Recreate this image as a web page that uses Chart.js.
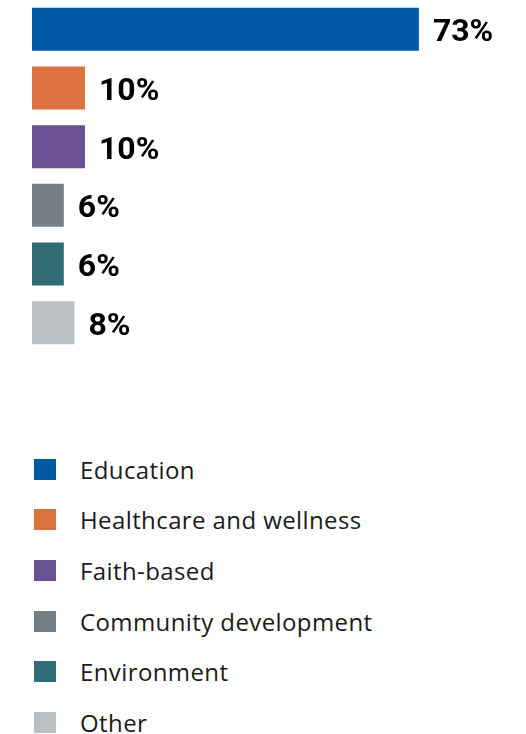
<!DOCTYPE html>
<html>
<head>
<meta charset="utf-8">
<script src="https://cdn.jsdelivr.net/npm/chart.js@4.4.1/dist/chart.umd.min.js"></script>
<style>
	html, body { margin: 0; padding: 0; background: #fff; }
	#wrap { position: relative; width: 526px; height: 352px; }
	#legend { list-style: none; margin: 0; padding: 0; position: absolute; top: 444px; left: 0; }
	#legend li { display: flex; align-items: center; height: 50.6px; font-family: "Open Sans", sans-serif; font-size: 24px; letter-spacing: 0.4px; color: #1b1b1b; }
	#legend li span.box { display: inline-block; width: 22px; height: 21px; margin-left: 34px; margin-right: 24px; }
</style>
</head>
<body>
<div id="wrap"><canvas id="chart"></canvas></div>
<ul id="legend"></ul>
<script>
var categories = ['Education', 'Healthcare and wellness', 'Faith-based', 'Community development', 'Environment', 'Other'];
var shares = [73, 10, 10, 6, 6, 8];
var colours = ['#0159a4', '#dd7241', '#6a5293', '#747e87', '#316c74', '#bbc0c4'];

// draws the "73%" labels next to each bar
var valueLabels = {
	id: 'valueLabels',
	afterDatasetsDraw(chart){
		var ctx = chart.ctx;
		var meta = chart.getDatasetMeta(0);
		ctx.save();
		ctx.font = 'bold 32px Roboto, sans-serif';
		ctx.fillStyle = '#000';
		ctx.textBaseline = 'middle';
		ctx.textAlign = 'left';
		meta.data.forEach(function(bar, i){
			ctx.fillText(chart.data.datasets[0].data[i] + '%', bar.x + 14, bar.y + 4);
		});
		ctx.restore();
	}
};

var htmlLegend = {
	id: 'htmlLegend',
	afterUpdate(chart){
		var ul = document.getElementById('legend');
		ul.innerHTML = '';
		chart.data.labels.forEach(function(label, i){
			var li = document.createElement('li');
			var box = document.createElement('span');
			box.className = 'box';
			box.style.background = chart.data.datasets[0].backgroundColor[i];
			li.appendChild(box);
			li.appendChild(document.createTextNode(label));
			ul.appendChild(li);
		});
	}
};

new Chart(document.getElementById('chart'), {
	type: 'bar',
	data: {
		labels: categories,
		datasets: [{
			data: shares,
			backgroundColor: colours,
			borderWidth: 0,
			categoryPercentage: 1,
			barPercentage: 0.733
		}]
	},
	options: {
		indexAxis: 'y',
		responsive: true,
		maintainAspectRatio: false,
		animation: false,
		layout: { padding: { left: 32, right: 70, top: 0, bottom: 0 } },
		scales: {
			x: { display: false, min: 0, max: 80 },
			y: { display: false }
		},
		plugins: {
			legend: { display: false },
			tooltip: { enabled: false }
		}
	},
	plugins: [valueLabels, htmlLegend]
});
</script>
</body>
</html>
